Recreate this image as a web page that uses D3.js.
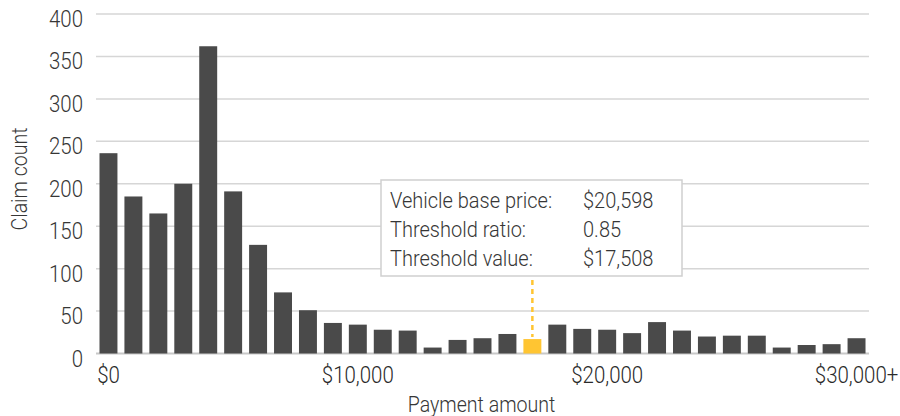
<!DOCTYPE html>
<html>
<head>
<meta charset="utf-8">
<script src="https://cdn.jsdelivr.net/npm/d3@7"></script>
<style>
  body { margin: 0; background: #fff; }
  text { font-family: "Roboto", "Liberation Sans", sans-serif; font-weight: 300; }
</style>
</head>
<body>
<div id="chart"></div>
<script>
// payment bins in $1,000 steps, last bin is $30,000+
const bins = d3.range(0, 31);
const counts = [236, 185, 165, 200, 362, 191, 128, 72, 51, 36, 34, 28, 27, 7, 16, 18, 23, 17,
  34, 29, 28, 24, 37, 27, 20, 21, 21, 7, 10, 11, 18];
const highlightBin = 17;
const yTicks = [0, 50, 100, 150, 200, 250, 300, 350, 400];
const xTickLabels = { 0: "$0", 10: "$10,000", 20: "$20,000", 30: "$30,000+" };
const noteRows = [
  ["Vehicle base price:", "$20,598"],
  ["Threshold ratio:", "0.85"],
  ["Threshold value:", "$17,508"]
];

const W = 900, H = 416;
const plotL = 96, plotR = 869, plotT = 14, plotB = 353.5;

const svg = d3.select("#chart").append("svg")
  .attr("width", W)
  .attr("height", H);

// reference uses a condensed face: place a group, then squeeze it horizontally
function label(parent, tx, ty, str, size, anchor, fill, rot, sx = 0.87) {
  const g = parent.append("g")
    .attr("transform", `translate(${tx},${ty})${rot ? ` rotate(${rot})` : ""} scale(${sx},1)`);
  g.append("text")
    .attr("text-anchor", anchor)
    .style("font-size", size + "px")
    .style("fill", fill)
    .text(str);
  return g;
}

const x = d3.scaleBand()
  .domain(bins)
  .range([plotL, plotR])
  .paddingInner(0.28)
  .paddingOuter(0.14);

const y = d3.scaleLinear()
  .domain([0, 400])
  .range([plotB, plotT]);

// gridlines
svg.append("g")
  .selectAll("line")
  .data(yTicks)
  .join("line")
  .attr("x1", plotL).attr("x2", plotR)
  .attr("y1", d => y(d)).attr("y2", d => y(d))
  .attr("stroke", d => d === 0 ? "#c8c8c8" : "#d6d6d6")
  .attr("stroke-width", d => d === 0 ? 2 : 1.5);

// y tick labels
const yLab = svg.append("g");
yTicks.forEach(t => label(yLab, 83, y(t) + 13, t, 23.5, "end", "#363636"));

// bars
svg.append("g")
  .selectAll("rect")
  .data(bins)
  .join("rect")
  .attr("x", d => x(d))
  .attr("width", x.bandwidth())
  .attr("y", d => y(counts[d]))
  .attr("height", d => y(0) - y(counts[d]))
  .attr("fill", d => d === highlightBin ? "#ffc532" : "#4a4a4a");

// x tick labels
const xLab = svg.append("g");
Object.keys(xTickLabels).map(Number).forEach(b =>
  label(xLab, x(b) + x.bandwidth() / 2, 383, xTickLabels[b], 23.5, "middle", "#2a2a2a"));

// axis titles
label(svg, 27, 179, "Claim count", 22.5, "middle", "#363636", -90);
label(svg, 481.5, 411.5, "Payment amount", 22.5, "middle", "#363636");

// annotation
const boxX = 381, boxY = 180, boxW = 301, boxH = 96;
const cx = x(highlightBin) + x.bandwidth() / 2;

svg.append("line")
  .attr("x1", cx).attr("x2", cx)
  .attr("y1", boxY + boxH + 4)
  .attr("y2", y(counts[highlightBin]) - 2)
  .attr("stroke", "#ffc532")
  .attr("stroke-width", 2.5)
  .attr("stroke-dasharray", "5,4");

svg.append("rect")
  .attr("x", boxX).attr("y", boxY)
  .attr("width", boxW).attr("height", boxH)
  .attr("fill", "#fff")
  .attr("stroke", "#cfcfcf")
  .attr("stroke-width", 1.5);

const note = svg.append("g");
noteRows.forEach((r, i) => {
  label(note, 390, 208 + i * 29, r[0], 22, "start", "#363636", 0, 0.91);
  label(note, 583, 208 + i * 29, r[1], 22, "start", "#363636", 0, 0.91);
});
</script>
</body>
</html>
